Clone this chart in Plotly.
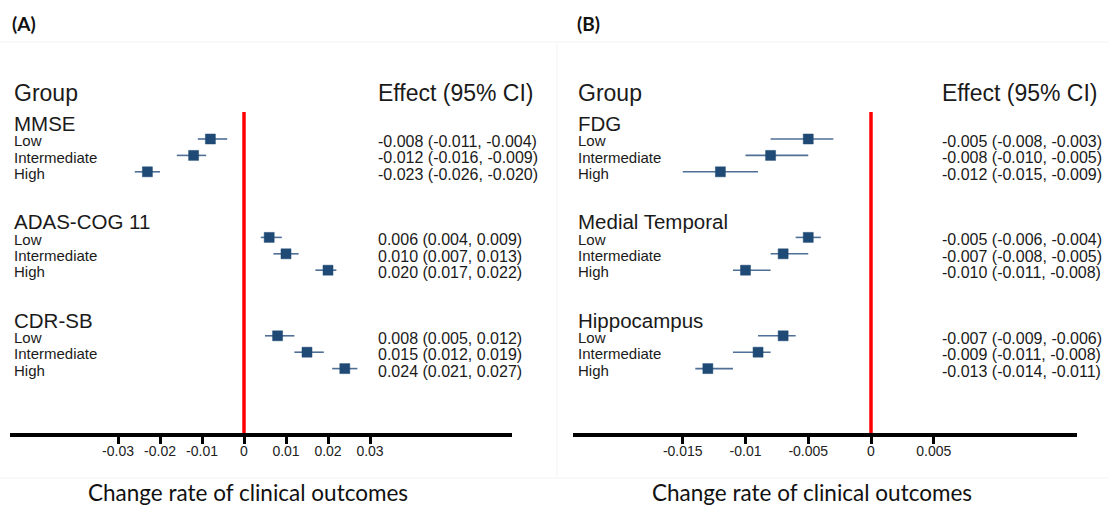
import plotly.graph_objects as go

# ---------------- data ----------------
groups = ["Low", "Intermediate", "High"]

a_outcomes = ["MMSE", "ADAS-COG 11", "CDR-SB"]
a_est = [-0.008, -0.012, -0.023, 0.006, 0.010, 0.020, 0.008, 0.015, 0.024]
a_lo = [-0.011, -0.016, -0.026, 0.004, 0.007, 0.017, 0.005, 0.012, 0.021]
a_hi = [-0.004, -0.009, -0.020, 0.009, 0.013, 0.022, 0.012, 0.019, 0.027]
a_ticks = [-0.03, -0.02, -0.01, 0, 0.01, 0.02, 0.03]
a_ticklabels = ["-0.03", "-0.02", "-0.01", "0", "0.01", "0.02", "0.03"]

b_outcomes = ["FDG", "Medial Temporal", "Hippocampus"]
b_est = [-0.005, -0.008, -0.012, -0.005, -0.007, -0.010, -0.007, -0.009, -0.013]
b_lo = [-0.008, -0.010, -0.015, -0.006, -0.008, -0.011, -0.009, -0.011, -0.014]
b_hi = [-0.003, -0.005, -0.009, -0.004, -0.005, -0.008, -0.006, -0.008, -0.011]
b_ticks = [-0.015, -0.01, -0.005, 0, 0.005]
b_ticklabels = ["-0.015", "-0.01", "-0.005", "0", "0.005"]

panel_labels = ["(A)", "(B)"]
x_title = "Change rate of clinical outcomes"

# ---------------- geometry ----------------
W, H = 1109, 507
ROW0, ROWH = 139, 16.4          # pixel of first "Low" row, row spacing
AX_BOTTOM, AX_TOP = 433, 60      # plot area pixel rows
OFF = 564                        # horizontal shift between panels


def px(p):
    return p / W


def py(p):
    return 1 - p / H


def prow(p):
    return (p - ROW0) / ROWH


y_range = [prow(AX_BOTTOM), prow(AX_TOP)]

# row positions
grp_rows, title_rows = [], []
for k in range(3):
    title_rows.append(6 * k - 1)
    for i in range(3):
        grp_rows.append(6 * k + i)

fig = go.Figure()

MARK = "#1f4a75"
WHISK = "#4f6f96"
TXT = "#1a1a1a"
FONT = "Liberation Sans, Arial, sans-serif"

for est, lo, hi, xa in [(a_est, a_lo, a_hi, "x"), (b_est, b_lo, b_hi, "x2")]:
    fig.add_trace(go.Scatter(
        x=est, y=grp_rows, xaxis=xa, yaxis="y", mode="markers",
        marker=dict(symbol="square", size=10, color=MARK,
                    line=dict(width=0.5, color=MARK)),
        error_x=dict(type="data", symmetric=False,
                     array=[h - e for h, e in zip(hi, est)],
                     arrayminus=[e - l for e, l in zip(est, lo)],
                     color=WHISK, thickness=1.6, width=0),
        showlegend=False, hoverinfo="skip",
    ))

annotations = []
shapes = []


def add_text(x_pix, y_val, text, size, yref="y", family=FONT, bold=False,
             xanchor="left", color=TXT):
    annotations.append(dict(
        x=px(x_pix), xref="paper", y=y_val, yref=yref,
        text=f"<b>{text}</b>" if bold else text,
        showarrow=False, xanchor=xanchor, yanchor="middle", borderpad=0,
        font=dict(family=family, size=size, color=color),
    ))


panels = [
    (0, a_outcomes, a_est, a_lo, a_hi, "x"),
    (OFF, b_outcomes, b_est, b_lo, b_hi, "x2"),
]
for p, (off, outcomes, est, lo, hi, xa) in enumerate(panels):
    # headers
    add_text(13 + off, prow(93), "Group", 23)
    add_text(377 + off, prow(93), "Effect (95% CI)", 23)
    for k, name in enumerate(outcomes):
        add_text(13 + off, title_rows[k] + 0.05, name, 20.5)
    for j, r in enumerate(grp_rows):
        add_text(13 + off, r + 0.1, groups[j % 3], 15)
        add_text(377 + off, r + 0.15,
                 f"{est[j]:.3f} ({lo[j]:.3f}, {hi[j]:.3f})", 16)
    # panel label
    annotations.append(dict(
        x=px(10 + off + (1 if p else 0)), xref="paper", y=py(23), yref="paper",
        text=f"<b>{panel_labels[p]}</b>", showarrow=False,
        xanchor="left", yanchor="middle",
        font=dict(family="Lato, Carlito, sans-serif", size=19, color="#111"),
    ))
    # axis title
    annotations.append(dict(
        x=px(248 + off), xref="paper", y=0, yref="paper",
        text=x_title, showarrow=False, xanchor="center", yanchor="bottom",
        borderpad=0,
        font=dict(family="Lato, Carlito, sans-serif", size=22.5, color="#111"),
    ))
    # red reference line at zero
    shapes.append(dict(type="line", xref=xa, yref="y", x0=0, x1=0,
                       y0=prow(112), y1=y_range[0],
                       line=dict(color="#ff0000", width=3.5), layer="above"))

# faint panel borders
shapes += [
    dict(type="line", xref="paper", yref="paper", x0=0, x1=1,
         y0=py(42), y1=py(42), line=dict(color="#f3f3f3", width=1), layer="below"),
    dict(type="line", xref="paper", yref="paper", x0=0, x1=1,
         y0=py(478), y1=py(478), line=dict(color="#f3f3f3", width=1), layer="below"),
    dict(type="line", xref="paper", yref="paper", x0=px(557), x1=px(557),
         y0=py(42), y1=py(478), line=dict(color="#f3f3f3", width=1), layer="below"),
]

axis_common = dict(
    showgrid=False, zeroline=False, showline=True, linecolor="#000",
    linewidth=3.5, ticks="outside", ticklen=7, tickwidth=3, tickcolor="#000",
    tickfont=dict(family=FONT, size=14, color="#222"), anchor="y",
    ticklabelstandoff=-5, fixedrange=True,
)

fig.update_layout(
    width=W, height=H, autosize=False,
    margin=dict(l=0, r=0, t=0, b=0, pad=0),
    paper_bgcolor="white", plot_bgcolor="white",
    xaxis=dict(domain=[px(10), px(512)],
               range=[(10 - 244) / 4200, (512 - 244) / 4200],
               tickvals=a_ticks, ticktext=a_ticklabels, **axis_common),
    xaxis2=dict(domain=[px(573), px(1077)],
                range=[(573 - 871) / 12550, (1077 - 871) / 12550],
                tickvals=b_ticks, ticktext=b_ticklabels, **axis_common),
    yaxis=dict(domain=[py(AX_BOTTOM), py(AX_TOP)], range=y_range,
               visible=False, fixedrange=True),
    annotations=annotations,
    shapes=shapes,
    showlegend=False,
)

fig.write_html("out.html")
